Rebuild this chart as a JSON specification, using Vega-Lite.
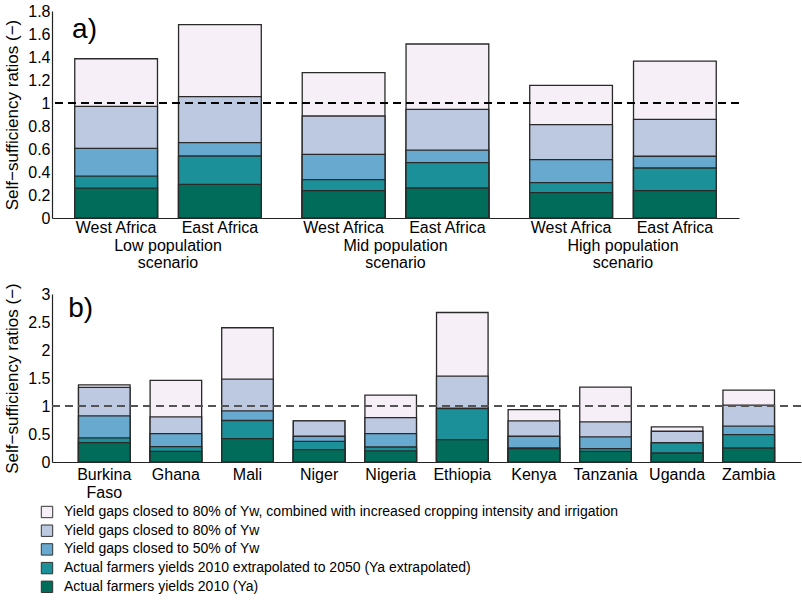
{
  "$schema": "https://vega.github.io/schema/vega-lite/v6.json",
  "padding": {"left": 3, "top": 3, "right": 2, "bottom": 0},
  "config": {
    "font": "Liberation Sans",
    "view": {"stroke": null},
    "axis": {"labelFontSize": 16, "labelColor": "#000", "titleColor": "#000", "titleFontWeight": "normal", "titleFontSize": 17, "domainColor": "#222", "domainWidth": 1.2, "ticks": false, "grid": false, "labelFont": "Liberation Sans", "titleFont": "Liberation Sans", "labelFlush": false},
    "axisY": {"labelOverlap": false}
  },
  "datasets": {
    "regional": [
      {"scenario": "Low", "region": "West Africa", "level": "Yield gaps closed to 80% of Yw, combined with increased cropping intensity and irrigation", "ssr": 1.385},
      {"scenario": "Low", "region": "West Africa", "level": "Yield gaps closed to 80% of Yw", "ssr": 0.97},
      {"scenario": "Low", "region": "West Africa", "level": "Yield gaps closed to 50% of Yw", "ssr": 0.605},
      {"scenario": "Low", "region": "West Africa", "level": "Actual farmers yields 2010 extrapolated to 2050 (Ya extrapolated)", "ssr": 0.365},
      {"scenario": "Low", "region": "West Africa", "level": "Actual farmers yields 2010 (Ya)", "ssr": 0.26},
      {"scenario": "Low", "region": "East Africa", "level": "Yield gaps closed to 80% of Yw, combined with increased cropping intensity and irrigation", "ssr": 1.682},
      {"scenario": "Low", "region": "East Africa", "level": "Yield gaps closed to 80% of Yw", "ssr": 1.056},
      {"scenario": "Low", "region": "East Africa", "level": "Yield gaps closed to 50% of Yw", "ssr": 0.656},
      {"scenario": "Low", "region": "East Africa", "level": "Actual farmers yields 2010 extrapolated to 2050 (Ya extrapolated)", "ssr": 0.539},
      {"scenario": "Low", "region": "East Africa", "level": "Actual farmers yields 2010 (Ya)", "ssr": 0.293},
      {"scenario": "Mid", "region": "West Africa", "level": "Yield gaps closed to 80% of Yw, combined with increased cropping intensity and irrigation", "ssr": 1.264},
      {"scenario": "Mid", "region": "West Africa", "level": "Yield gaps closed to 80% of Yw", "ssr": 0.887},
      {"scenario": "Mid", "region": "West Africa", "level": "Yield gaps closed to 50% of Yw", "ssr": 0.554},
      {"scenario": "Mid", "region": "West Africa", "level": "Actual farmers yields 2010 extrapolated to 2050 (Ya extrapolated)", "ssr": 0.334},
      {"scenario": "Mid", "region": "West Africa", "level": "Actual farmers yields 2010 (Ya)", "ssr": 0.238},
      {"scenario": "Mid", "region": "East Africa", "level": "Yield gaps closed to 80% of Yw, combined with increased cropping intensity and irrigation", "ssr": 1.513},
      {"scenario": "Mid", "region": "East Africa", "level": "Yield gaps closed to 80% of Yw", "ssr": 0.945},
      {"scenario": "Mid", "region": "East Africa", "level": "Yield gaps closed to 50% of Yw", "ssr": 0.591},
      {"scenario": "Mid", "region": "East Africa", "level": "Actual farmers yields 2010 extrapolated to 2050 (Ya extrapolated)", "ssr": 0.482},
      {"scenario": "Mid", "region": "East Africa", "level": "Actual farmers yields 2010 (Ya)", "ssr": 0.261},
      {"scenario": "High", "region": "West Africa", "level": "Yield gaps closed to 80% of Yw, combined with increased cropping intensity and irrigation", "ssr": 1.154},
      {"scenario": "High", "region": "West Africa", "level": "Yield gaps closed to 80% of Yw", "ssr": 0.812},
      {"scenario": "High", "region": "West Africa", "level": "Yield gaps closed to 50% of Yw", "ssr": 0.508},
      {"scenario": "High", "region": "West Africa", "level": "Actual farmers yields 2010 extrapolated to 2050 (Ya extrapolated)", "ssr": 0.308},
      {"scenario": "High", "region": "West Africa", "level": "Actual farmers yields 2010 (Ya)", "ssr": 0.221},
      {"scenario": "High", "region": "East Africa", "level": "Yield gaps closed to 80% of Yw, combined with increased cropping intensity and irrigation", "ssr": 1.365},
      {"scenario": "High", "region": "East Africa", "level": "Yield gaps closed to 80% of Yw", "ssr": 0.858},
      {"scenario": "High", "region": "East Africa", "level": "Yield gaps closed to 50% of Yw", "ssr": 0.537},
      {"scenario": "High", "region": "East Africa", "level": "Actual farmers yields 2010 extrapolated to 2050 (Ya extrapolated)", "ssr": 0.435},
      {"scenario": "High", "region": "East Africa", "level": "Actual farmers yields 2010 (Ya)", "ssr": 0.238}
    ],
    "national": [
      {"country": "Burkina Faso", "level": "Yield gaps closed to 80% of Yw, combined with increased cropping intensity and irrigation", "ssr": 1.378},
      {"country": "Burkina Faso", "level": "Yield gaps closed to 80% of Yw", "ssr": 1.331},
      {"country": "Burkina Faso", "level": "Yield gaps closed to 50% of Yw", "ssr": 0.823},
      {"country": "Burkina Faso", "level": "Actual farmers yields 2010 extrapolated to 2050 (Ya extrapolated)", "ssr": 0.43},
      {"country": "Burkina Faso", "level": "Actual farmers yields 2010 (Ya)", "ssr": 0.347},
      {"country": "Ghana", "level": "Yield gaps closed to 80% of Yw, combined with increased cropping intensity and irrigation", "ssr": 1.456},
      {"country": "Ghana", "level": "Yield gaps closed to 80% of Yw", "ssr": 0.805},
      {"country": "Ghana", "level": "Yield gaps closed to 50% of Yw", "ssr": 0.508},
      {"country": "Ghana", "level": "Actual farmers yields 2010 extrapolated to 2050 (Ya extrapolated)", "ssr": 0.275},
      {"country": "Ghana", "level": "Actual farmers yields 2010 (Ya)", "ssr": 0.191},
      {"country": "Mali", "level": "Yield gaps closed to 80% of Yw, combined with increased cropping intensity and irrigation", "ssr": 2.397},
      {"country": "Mali", "level": "Yield gaps closed to 80% of Yw", "ssr": 1.479},
      {"country": "Mali", "level": "Yield gaps closed to 50% of Yw", "ssr": 0.912},
      {"country": "Mali", "level": "Actual farmers yields 2010 extrapolated to 2050 (Ya extrapolated)", "ssr": 0.741},
      {"country": "Mali", "level": "Actual farmers yields 2010 (Ya)", "ssr": 0.419},
      {"country": "Niger", "level": "Yield gaps closed to 80% of Yw, combined with increased cropping intensity and irrigation", "ssr": 0.733},
      {"country": "Niger", "level": "Yield gaps closed to 80% of Yw", "ssr": 0.733},
      {"country": "Niger", "level": "Yield gaps closed to 50% of Yw", "ssr": 0.46},
      {"country": "Niger", "level": "Actual farmers yields 2010 extrapolated to 2050 (Ya extrapolated)", "ssr": 0.37},
      {"country": "Niger", "level": "Actual farmers yields 2010 (Ya)", "ssr": 0.222},
      {"country": "Nigeria", "level": "Yield gaps closed to 80% of Yw, combined with increased cropping intensity and irrigation", "ssr": 1.193},
      {"country": "Nigeria", "level": "Yield gaps closed to 80% of Yw", "ssr": 0.794},
      {"country": "Nigeria", "level": "Yield gaps closed to 50% of Yw", "ssr": 0.508},
      {"country": "Nigeria", "level": "Actual farmers yields 2010 extrapolated to 2050 (Ya extrapolated)", "ssr": 0.268},
      {"country": "Nigeria", "level": "Actual farmers yields 2010 (Ya)", "ssr": 0.197},
      {"country": "Ethiopia", "level": "Yield gaps closed to 80% of Yw, combined with increased cropping intensity and irrigation", "ssr": 2.67},
      {"country": "Ethiopia", "level": "Yield gaps closed to 80% of Yw", "ssr": 1.533},
      {"country": "Ethiopia", "level": "Yield gaps closed to 50% of Yw", "ssr": 0.955},
      {"country": "Ethiopia", "level": "Actual farmers yields 2010 extrapolated to 2050 (Ya extrapolated)", "ssr": 0.955},
      {"country": "Ethiopia", "level": "Actual farmers yields 2010 (Ya)", "ssr": 0.4},
      {"country": "Kenya", "level": "Yield gaps closed to 80% of Yw, combined with increased cropping intensity and irrigation", "ssr": 0.937},
      {"country": "Kenya", "level": "Yield gaps closed to 80% of Yw", "ssr": 0.733},
      {"country": "Kenya", "level": "Yield gaps closed to 50% of Yw", "ssr": 0.46},
      {"country": "Kenya", "level": "Actual farmers yields 2010 extrapolated to 2050 (Ya extrapolated)", "ssr": 0.25},
      {"country": "Kenya", "level": "Actual farmers yields 2010 (Ya)", "ssr": 0.24},
      {"country": "Tanzania", "level": "Yield gaps closed to 80% of Yw, combined with increased cropping intensity and irrigation", "ssr": 1.336},
      {"country": "Tanzania", "level": "Yield gaps closed to 80% of Yw", "ssr": 0.716},
      {"country": "Tanzania", "level": "Yield gaps closed to 50% of Yw", "ssr": 0.447},
      {"country": "Tanzania", "level": "Actual farmers yields 2010 extrapolated to 2050 (Ya extrapolated)", "ssr": 0.24},
      {"country": "Tanzania", "level": "Actual farmers yields 2010 (Ya)", "ssr": 0.191},
      {"country": "Uganda", "level": "Yield gaps closed to 80% of Yw, combined with increased cropping intensity and irrigation", "ssr": 0.626},
      {"country": "Uganda", "level": "Yield gaps closed to 80% of Yw", "ssr": 0.549},
      {"country": "Uganda", "level": "Yield gaps closed to 50% of Yw", "ssr": 0.345},
      {"country": "Uganda", "level": "Actual farmers yields 2010 extrapolated to 2050 (Ya extrapolated)", "ssr": 0.34},
      {"country": "Uganda", "level": "Actual farmers yields 2010 (Ya)", "ssr": 0.161},
      {"country": "Zambia", "level": "Yield gaps closed to 80% of Yw, combined with increased cropping intensity and irrigation", "ssr": 1.283},
      {"country": "Zambia", "level": "Yield gaps closed to 80% of Yw", "ssr": 1.014},
      {"country": "Zambia", "level": "Yield gaps closed to 50% of Yw", "ssr": 0.639},
      {"country": "Zambia", "level": "Actual farmers yields 2010 extrapolated to 2050 (Ya extrapolated)", "ssr": 0.49},
      {"country": "Zambia", "level": "Actual farmers yields 2010 (Ya)", "ssr": 0.25}
    ]
  },
  "resolve": {"scale": {"color": "independent"}, "legend": {"color": "independent"}},
  "spacing": 12,
  "vconcat": [
    {
      "width": 687,
      "height": 207,
      "data": {"name": "regional"},
      "layer": [
        {
          "mark": {"type": "bar", "stroke": "#2a2a2a", "strokeWidth": 1.3},
          "encoding": {
            "x": {"field": "scenario", "type": "nominal", "sort": ["Low", "Mid", "High"], "scale": {"paddingInner": 0.18, "paddingOuter": 0.1},
                  "axis": {"title": null, "labelAngle": 0, "labelExpr": "[datum.label + ' population', 'scenario']", "labelPadding": 19, "labelLineHeight": 17, "labelDx": 10}},
            "xOffset": {"field": "region", "type": "nominal", "sort": ["West Africa", "East Africa"], "scale": {"paddingInner": 0.203, "paddingOuter": 0}},
            "y": {"field": "ssr", "type": "quantitative", "stack": null, "scale": {"domain": [0, 1.8], "nice": false},
                  "axis": {"title": "Self−sufficiency ratios (−)", "values": [0, 0.2, 0.4, 0.6, 0.8, 1, 1.2, 1.4, 1.6, 1.8], "tickCount": 20, "format": "~g", "labelPadding": 2, "titlePadding": 6, "labelOverlap": false, "labelFlush": false}},
            "color": {"field": "level", "type": "nominal",
                      "scale": {"domain": ["Yield gaps closed to 80% of Yw, combined with increased cropping intensity and irrigation", "Yield gaps closed to 80% of Yw", "Yield gaps closed to 50% of Yw", "Actual farmers yields 2010 extrapolated to 2050 (Ya extrapolated)", "Actual farmers yields 2010 (Ya)"],
                                "range": ["#f6eff7", "#bdc9e1", "#67a9cf", "#1c9099", "#016c59"]},
                      "legend": null}
          }
        },
        {"mark": {"type": "rule", "strokeDash": [8, 5], "color": "#000", "strokeWidth": 1.2}, "encoding": {"y": {"datum": 1}}},
        {
          "transform": [{"filter": "datum.level == 'Actual farmers yields 2010 (Ya)'"}],
          "mark": {"type": "text", "baseline": "top", "dy": 2, "fontSize": 16, "color": "#000"},
          "encoding": {
            "x": {"field": "scenario", "type": "nominal", "sort": ["Low", "Mid", "High"]},
            "xOffset": {"field": "region", "type": "nominal", "sort": ["West Africa", "East Africa"]},
            "y": {"datum": 0},
            "text": {"field": "region"}
          }
        },
        {
          "data": {"values": [{"label": "a)"}]},
          "mark": {"type": "text", "align": "left", "baseline": "middle", "fontSize": 28, "dx": -44, "color": "#000"},
          "encoding": {
            "x": {"datum": "Low"},
            "xOffset": {"datum": "West Africa"},
            "y": {"datum": 1.632},
            "text": {"field": "label"}
          }
        }
      ]
    },
    {
      "width": 749,
      "height": 168,
      "data": {"name": "national"},
      "layer": [
        {
          "mark": {"type": "bar", "stroke": "#2a2a2a", "strokeWidth": 1.3},
          "encoding": {
            "x": {"field": "country", "type": "nominal", "sort": ["Burkina Faso", "Ghana", "Mali", "Niger", "Nigeria", "Ethiopia", "Kenya", "Tanzania", "Uganda", "Zambia"],
                  "scale": {"paddingInner": 0.28, "paddingOuter": 0.37},
                  "axis": {"title": null, "labelAngle": 0, "labelPadding": 4, "labelLineHeight": 18, "labelExpr": "datum.label == 'Burkina Faso' ? ['Burkina', 'Faso'] : datum.label"}},
            "y": {"field": "ssr", "type": "quantitative", "stack": null, "scale": {"domain": [0, 3], "nice": false},
                  "axis": {"title": "Self−sufficiency ratios (−)", "values": [0, 0.5, 1, 1.5, 2, 2.5, 3], "tickCount": 20, "format": "~g", "labelPadding": 2, "titlePadding": 6, "labelOverlap": false, "labelFlush": false}},
            "color": {"field": "level", "type": "nominal",
                      "scale": {"domain": ["Yield gaps closed to 80% of Yw, combined with increased cropping intensity and irrigation", "Yield gaps closed to 80% of Yw", "Yield gaps closed to 50% of Yw", "Actual farmers yields 2010 extrapolated to 2050 (Ya extrapolated)", "Actual farmers yields 2010 (Ya)"],
                                "range": ["#f6eff7", "#bdc9e1", "#67a9cf", "#1c9099", "#016c59"]},
                      "legend": {"title": null, "orient": "none", "legendX": -12, "legendY": 211, "direction": "vertical", "symbolType": "square", "symbolSize": 130, "symbolStrokeColor": "#333", "symbolStrokeWidth": 1, "labelFontSize": 14, "labelColor": "#000", "labelFont": "Liberation Sans", "rowPadding": 2.7, "labelOffset": 10, "labelLimit": 800}}
          }
        },
        {"mark": {"type": "rule", "strokeDash": [8, 5], "color": "#555", "strokeWidth": 1.2}, "encoding": {"y": {"datum": 1}}},
        {
          "data": {"values": [{"label": "b)"}]},
          "mark": {"type": "text", "align": "left", "baseline": "middle", "fontSize": 28, "dx": -36, "color": "#000"},
          "encoding": {
            "x": {"datum": "Burkina Faso"},
            "y": {"datum": 2.73},
            "text": {"field": "label"}
          }
        }
      ]
    }
  ]
}
